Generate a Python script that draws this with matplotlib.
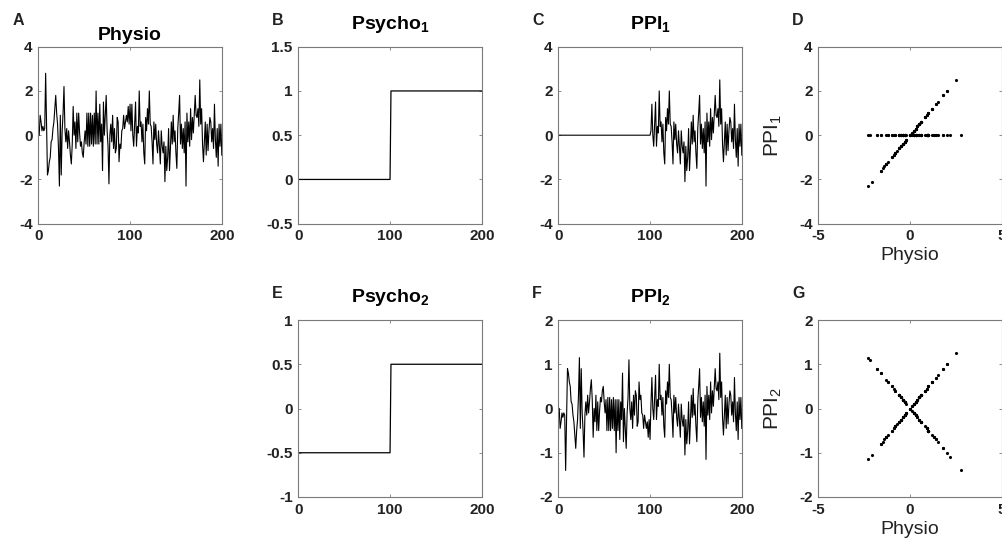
import numpy as np
import matplotlib
matplotlib.use('Agg')
from matplotlib import pyplot as plt

plt.rcParams['font.family'] = ['Liberation Sans', 'DejaVu Sans']
plt.rcParams['mathtext.default'] = 'regular'

# physio time series (200 samples)
physio = [
    0.0, 0.9, 0.6, 0.2, 0.4, 0.2, 0.3, 2.8, 0.4, -1.8,
    -1.6, -1.2, -1.0, -0.3, -0.2, 0.3, 0.6, 1.2, 1.8, 1.0,
    0.5, -0.6, -2.3, 0.9, -1.8, 0.2, 1.0, 2.2, 0.3, -0.3,
    0.3, -0.6, 0.2, -0.3, -0.9, -1.3, -0.4, 1.3, 0.0, 0.6,
    -0.6, 1.0, -0.3, 1.0, 0.1, -0.5, -0.3, -0.8, -1.0, -0.3,
    0.2, -0.4, 1.0, -0.5, 1.0, -0.5, 1.0, -0.4, 0.9, -0.5,
    1.0, -0.4, 2.0, -0.4, 1.0, -0.4, 1.4, -0.3, 0.5, -1.6,
    1.5, 0.0, 0.9, 1.8, 0.2, -0.5, -2.2, 0.0, 0.5, -0.3,
    0.9, -0.6, 0.3, -0.8, -0.6, 0.8, 0.6, -1.2, -0.4, -0.6,
    0.2, 0.3, 0.9, 0.3, 0.6, 0.9, 0.6, 1.3, 0.5, 1.4,
    0.2, 1.4, 0.0, -0.5, 0.5, 1.5, -0.5, 0.4, 0.1, 2.0,
    0.4, 0.6, -0.3, 0.5, -0.8, -1.3, 0.8, 0.2, 1.2, 0.5,
    2.0, 0.5, 0.4, -0.3, -1.3, 0.6, -0.2, 0.5, -0.4, -0.8,
    0.2, -0.5, -1.3, 0.2, -0.5, -0.8, -0.3, -2.1, -0.5, -1.6,
    -1.0, 0.3, -1.6, -0.6, 0.6, -0.4, 0.9, -0.3, 0.2, -0.8,
    -1.5, 0.3, 1.0, 1.8, -0.4, 0.5, -0.6, 0.3, -0.8, 0.6,
    -2.3, 1.0, -0.3, 0.6, -0.5, 1.2, -0.2, 0.8, 0.1, 1.0,
    1.8, 0.9, 0.8, 1.2, 0.4, 2.5, 0.5, 1.2, -0.4, -1.2,
    -0.3, 0.6, -0.9, 0.5, -0.7, 0.2, 0.8, 0.6, -0.3, 0.3,
    -0.6, 1.4, -0.2, -1.0, 0.3, -1.4, 0.5, -0.5, 0.5, -0.9,
]
psycho_1 = [0.0] * 100 + [1.0] * 100
psycho_2 = [-0.5] * 100 + [0.5] * 100

t = np.arange(1, len(physio) + 1)
physio = np.array(physio)
ppi_1 = physio * np.array(psycho_1)
ppi_2 = physio * np.array(psycho_2)

W, H = 1003, 553
fig = plt.figure(figsize=(W / 100, H / 100), dpi=100)

col_left = [38.3, 298.3, 558.3, 818.3]
row_top = [46.7, 320.0]
ax_w, ax_h = 183.5, 177.0

spine_col = '#7a7a7a'
text_col = '#222222'


def make_axes(col, row, letter):
    left = col_left[col]
    top = row_top[row]
    ax = fig.add_axes([left / W, 1 - (top + ax_h) / H, ax_w / W, ax_h / H])
    for s in ax.spines.values():
        s.set_color(spine_col)
        s.set_linewidth(0.8)
    ax.tick_params(direction='in', length=2.5, width=0.6, top=True, right=True,
                   colors=spine_col, labelcolor=text_col, pad=4)
    fig.text((left - 26) / W, 1 - (top - 22) / H, letter, fontsize=11.5,
             fontweight='bold', color=text_col, va='baseline', ha='left')
    return ax


def set_ticks(ax, xt, yt):
    ax.set_xlim(xt[0], xt[-1])
    ax.set_ylim(yt[0], yt[-1])
    ax.set_xticks(xt, labels=[f'{v:g}' for v in xt], fontsize=11, fontweight='bold')
    ax.set_yticks(yt, labels=[f'{v:g}' for v in yt], fontsize=11, fontweight='bold')


time_ticks = [0, 100, 200]

# A
ax = make_axes(0, 0, 'A')
ax.plot(t, physio, color='black', lw=0.8)
set_ticks(ax, time_ticks, [-4, -2, 0, 2, 4])
ax.set_title('Physio', fontsize=14, fontweight='bold', pad=5)

# B
ax = make_axes(1, 0, 'B')
ax.plot(t, psycho_1, color='black', lw=0.9)
set_ticks(ax, time_ticks, [-0.5, 0, 0.5, 1, 1.5])
ax.set_title('Psycho$_1$', fontsize=14, fontweight='bold', pad=13)

# C
ax = make_axes(2, 0, 'C')
ax.plot(t, ppi_1, color='black', lw=0.8)
set_ticks(ax, time_ticks, [-4, -2, 0, 2, 4])
ax.set_title('PPI$_1$', fontsize=14, fontweight='bold', pad=13)

# D
ax = make_axes(3, 0, 'D')
ax.plot(physio, ppi_1, '.', color='black', ms=2.5)
set_ticks(ax, [-5, 0, 5], [-4, -2, 0, 2, 4])
ax.set_xlabel('Physio', fontsize=14, color=text_col, labelpad=3)
ax.set_ylabel('PPI$_1$', fontsize=15, color=text_col, labelpad=11)

# E
ax = make_axes(1, 1, 'E')
ax.plot(t, psycho_2, color='black', lw=0.9)
set_ticks(ax, time_ticks, [-1, -0.5, 0, 0.5, 1])
ax.set_title('Psycho$_2$', fontsize=14, fontweight='bold', pad=13)

# F
ax = make_axes(2, 1, 'F')
ax.plot(t, ppi_2, color='black', lw=0.8)
set_ticks(ax, time_ticks, [-2, -1, 0, 1, 2])
ax.set_title('PPI$_2$', fontsize=14, fontweight='bold', pad=13)

# G
ax = make_axes(3, 1, 'G')
ax.plot(physio, ppi_2, '.', color='black', ms=2.5)
set_ticks(ax, [-5, 0, 5], [-2, -1, 0, 1, 2])
ax.set_xlabel('Physio', fontsize=14, color=text_col, labelpad=3)
ax.set_ylabel('PPI$_2$', fontsize=15, color=text_col, labelpad=11)

fig.savefig('out.png', dpi=100)
